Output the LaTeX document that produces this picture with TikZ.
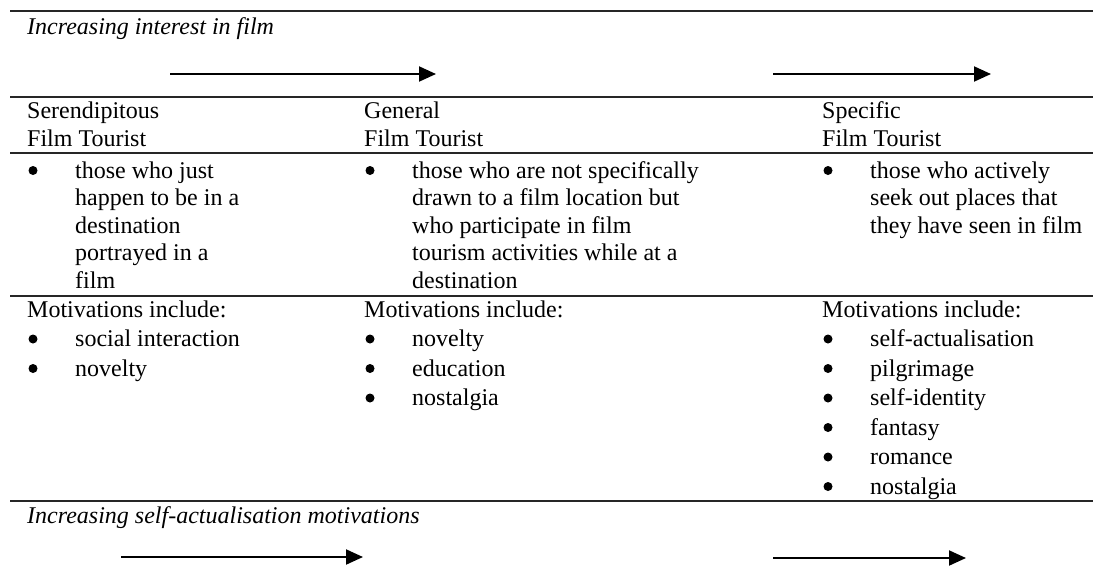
\documentclass[tikz,border=0pt]{standalone}
\usepackage{fontspec}
\setmainfont{Liberation Serif}
\usetikzlibrary{arrows.meta}
\begin{document}
\begin{tikzpicture}[x=1pt,y=-1pt,
  txt/.style={anchor=base west,inner sep=0pt,font=\fontsize{24}{28}\selectfont},
  itx/.style={txt,font=\fontsize{24}{28}\selectfont\itshape},
  bul/.style={circle,fill=black,inner sep=0pt,minimum size=9pt,yshift=7.5pt},
  rule/.style={line width=1.3pt,draw=black!85},
  trend/.style={line width=2pt,-{Triangle[length=17pt,width=15pt]}}]
\useasboundingbox (0,0) rectangle (1093,579);

% horizontal rules of the table
\coordinate (r0l) at (10,11);  \coordinate (r0r) at (1093,11);
\coordinate (r1l) at (10,97);  \coordinate (r1r) at (1093,97);
\coordinate (r2l) at (10,153); \coordinate (r2r) at (1093,153);
\coordinate (r3l) at (10,296); \coordinate (r3r) at (1093,296);
\coordinate (r4l) at (10,501); \coordinate (r4r) at (1093,501);
\foreach \r in {r0,r1,r2,r3,r4} \draw[rule] (\r l) -- (\r r);

% top trend
\node[itx] (filmint) at (27,34) {Increasing interest in film};
\coordinate (a1s) at (170,74); \coordinate (a1e) at (436,74);
\coordinate (a2s) at (773,74); \coordinate (a2e) at (991,74);
\draw[trend] (a1s) -- (a1e);
\draw[trend] (a2s) -- (a2e);

% headings
\node[txt] (h1a) at (27,118) {Serendipitous};
\node[txt] (h1b) at (27,146) {Film Tourist};
\node[txt] (h2a) at (364,118) {General};
\node[txt] (h2b) at (364,146) {Film Tourist};
\node[txt] (h3a) at (822,118) {Specific};
\node[txt] (h3b) at (822,146) {Film Tourist};

% definitions
\node[bul] (d1b) at (33,178) {};
\node[txt] (d1l1) at (75,178) {those who just};
\node[txt] (d1l2) at (75,205.5) {happen to be in a};
\node[txt] (d1l3) at (75,233) {destination};
\node[txt] (d1l4) at (75,260.5) {portrayed in a};
\node[txt] (d1l5) at (75,288) {film};

\node[bul] (d2b) at (370,178) {};
\node[txt] (d2l1) at (412,178) {those who are not specifically};
\node[txt] (d2l2) at (412,205.5) {drawn to a film location but};
\node[txt] (d2l3) at (412,233) {who participate in film};
\node[txt] (d2l4) at (412,260.5) {tourism activities while at a};
\node[txt] (d2l5) at (412,288) {destination};

\node[bul] (d3b) at (828,178) {};
\node[txt] (d3l1) at (870,178) {those who actively};
\node[txt] (d3l2) at (870,205.5) {seek out places that};
\node[txt] (d3l3) at (870,233) {they have seen in film};

% motivations
\node[txt] (m1) at (27,317) {Motivations include:};
\node[bul] (m1b1) at (33,346.5) {}; \node[txt] (m1i1) at (75,346.5) {social interaction};
\node[bul] (m1b2) at (33,376) {};   \node[txt] (m1i2) at (75,376) {novelty};

\node[txt] (m2) at (364,317) {Motivations include:};
\node[bul] (m2b1) at (370,346.5) {}; \node[txt] (m2i1) at (412,346.5) {novelty};
\node[bul] (m2b2) at (370,376) {};   \node[txt] (m2i2) at (412,376) {education};
\node[bul] (m2b3) at (370,405.5) {}; \node[txt] (m2i3) at (412,405.5) {nostalgia};

\node[txt] (m3) at (822,317) {Motivations include:};
\node[bul] (m3b1) at (828,346.5) {}; \node[txt] (m3i1) at (870,346.5) {self-actualisation};
\node[bul] (m3b2) at (828,376) {};   \node[txt] (m3i2) at (870,376) {pilgrimage};
\node[bul] (m3b3) at (828,405.5) {}; \node[txt] (m3i3) at (870,405.5) {self-identity};
\node[bul] (m3b4) at (828,435) {};   \node[txt] (m3i4) at (870,435) {fantasy};
\node[bul] (m3b5) at (828,464.5) {}; \node[txt] (m3i5) at (870,464.5) {romance};
\node[bul] (m3b6) at (828,494) {};   \node[txt] (m3i6) at (870,494) {nostalgia};

% bottom trend
\node[itx] (selfact) at (27,523) {Increasing self-actualisation motivations};
\coordinate (b1s) at (121,557); \coordinate (b1e) at (363,557);
\coordinate (b2s) at (773,558); \coordinate (b2e) at (966,558);
\draw[trend] (b1s) -- (b1e);
\draw[trend] (b2s) -- (b2e);
\end{tikzpicture}
\end{document}
